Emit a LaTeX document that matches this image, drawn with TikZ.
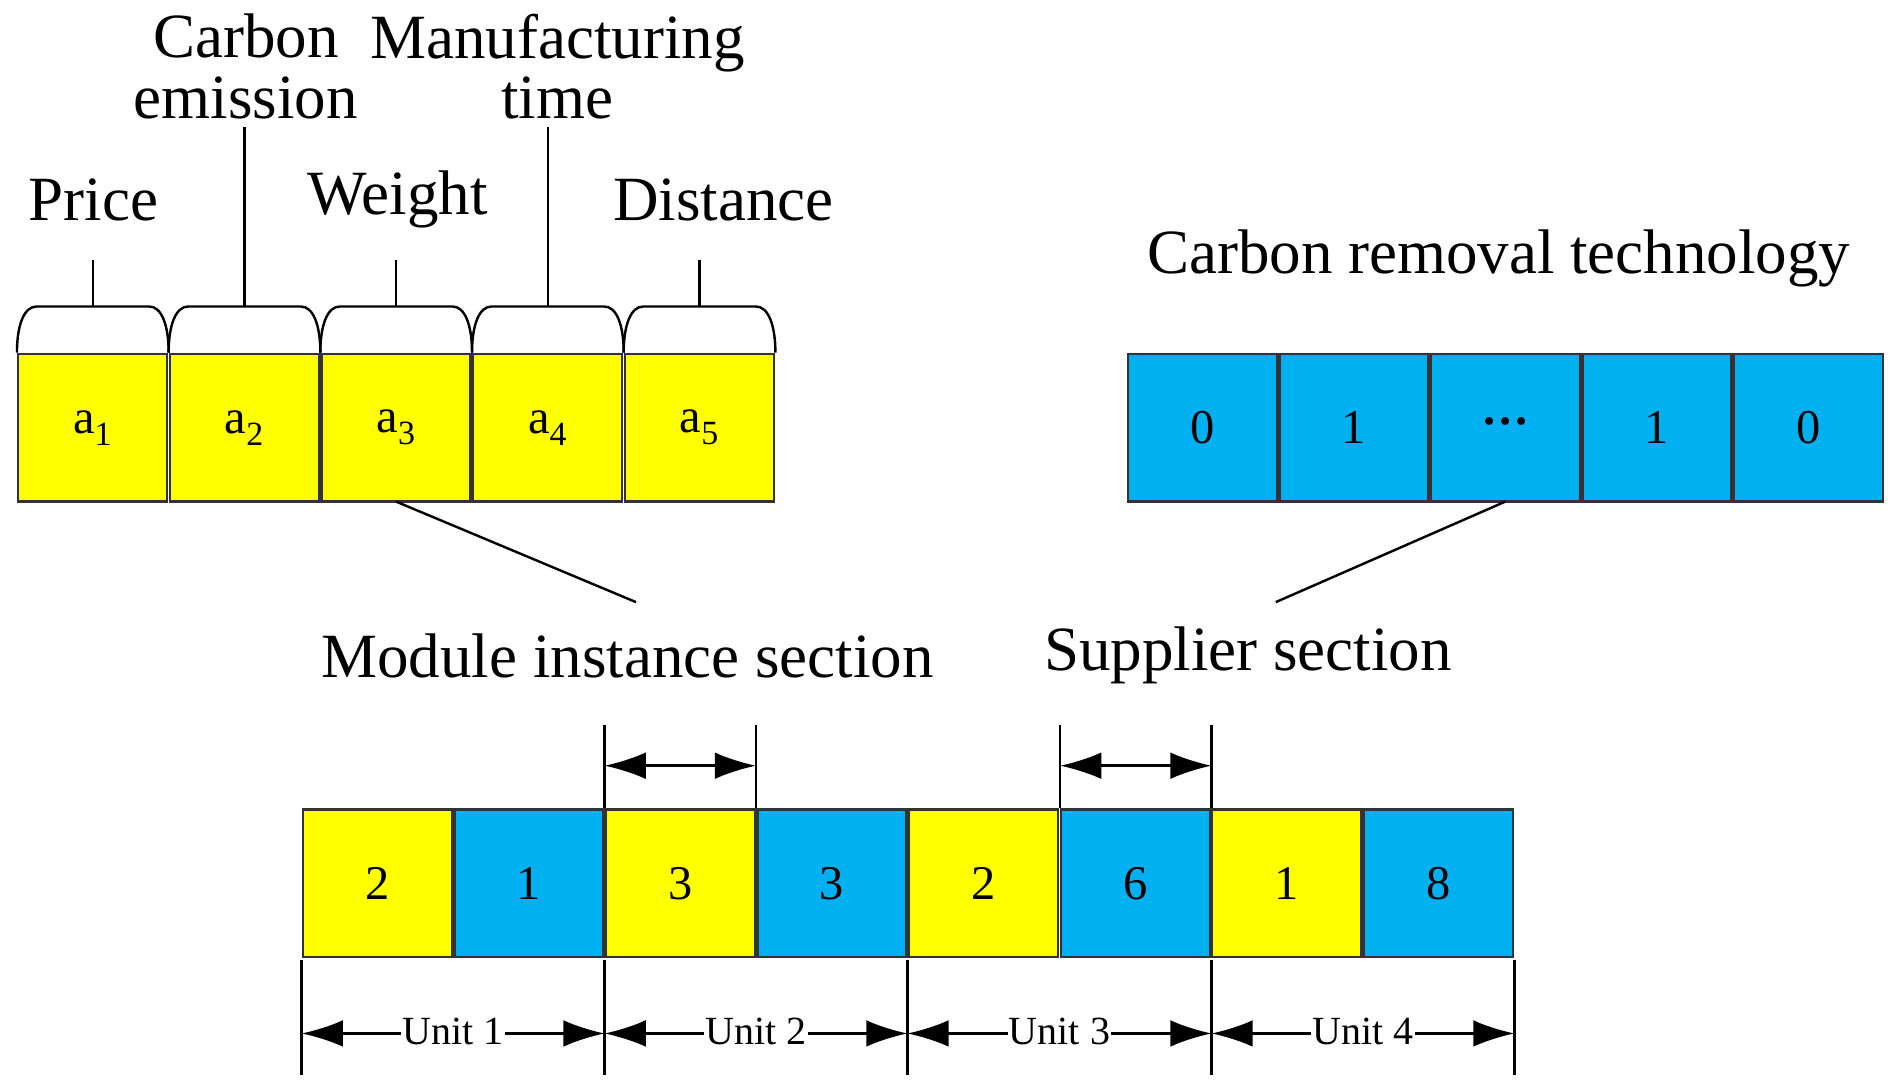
\documentclass[tikz,border=0pt]{standalone}
\usepackage{fontspec}
\setmainfont{Liberation Serif}
\usetikzlibrary{arrows.meta}
\definecolor{yel}{HTML}{FFFF00}
\definecolor{blu}{HTML}{00B0F0}
\begin{document}
\begin{tikzpicture}[x=1pt,y=-1pt,
  yc/.style={draw=black!80,line width=2pt,fill=yel,minimum width=123pt,minimum height=122pt,inner sep=0,outer sep=0,anchor=north west,font=\fontsize{40}{42}\selectfont},
  bc/.style={yc,fill=blu},
  lab/.style={font=\fontsize{52}{50}\selectfont,align=center,inner sep=0},
  ln/.style={line width=2pt},
  arr/.style={line width=2pt,{Latex[length=34pt,width=22pt]}-{Latex[length=34pt,width=22pt]}},
  ulab/.style={font=\fontsize{33}{34}\selectfont,fill=white,inner sep=1pt}]
\useasboundingbox (0,0) rectangle (1560,897);
% top yellow
\foreach \i/\t in {1/a_1,2/a_2,3/a_3,4/a_4,5/a_5}{
  \node[yc] (y\i) at ({15+125.2*(\i-1)},292) {$\mathrm{\t}$};
  \pgfmathsetmacro\xa{14+125.2*(\i-1)}
  \pgfmathsetmacro\xb{\xa+125.2}
  \draw[ln] (\xa,291) .. controls (\xa,268) and (\xa+6,253) .. (\xa+16,253) -- (\xb-16,253) .. controls (\xb-6,253) and (\xb,268) .. (\xb,291);
}
\foreach \i/\tp in {1/215,2/105,3/215,4/105,5/215}{
  \draw[ln] ({14+125.2*(\i-0.5)},253) -- ({14+125.2*(\i-0.5)},\tp);
}
\node[lab] (lp) at (77,165) {Price};
\node[lab] (lc) at (203,55) {Carbon\\emission};
\node[lab] (lw) at (328,165) {Weight};
\node[lab] (lm) at (460,55) {Manufacturing\\time};
\node[lab] (ld) at (597,165) {Distance};
% blue
\foreach \i/\t in {1/0,2/1,3/\textbf{···},4/1,5/0}{
  \node[bc] (b\i) at ({931+125*(\i-1)},292) {\t};
}
\node[lab] (lt) at (1237,213) {Carbon removal technology};
\node[lab] (mis) at (518,541) {Module instance section};
\node[lab] (ss) at (1030,541) {Supplier section};
\draw[ln] (y3.south) -- (525,497);
\draw[ln] (b3.south) -- (1053,497);
% bottom row
\foreach \i/\t in {1/2,2/1,3/3,4/3,5/2,6/6,7/1,8/8}{
  \pgfmathparse{mod(\i,2)==1?"yc":"bc"}
  \node[\pgfmathresult] (c\i) at ({250+125.1*(\i-1)},668) {\t};
}
\foreach \x in {499,624,875,1000}{\draw[ln] (\x,598) -- (\x,667);}
\draw[arr] (499,632) -- (624,632);
\draw[arr] (875,632) -- (1000,632);
\foreach \x in {249,499,749,1000,1250}{\draw[ln] (\x,792) -- (\x,887);}
\foreach \i/\a/\b in {1/249/499,2/499/749,3/749/1000,4/1000/1250}{
  \draw[arr] (\a,853) -- (\b,853);
  \node[ulab] (u\i) at ({(\a+\b)/2},851) {Unit \i};
}
\end{tikzpicture}
\end{document}
